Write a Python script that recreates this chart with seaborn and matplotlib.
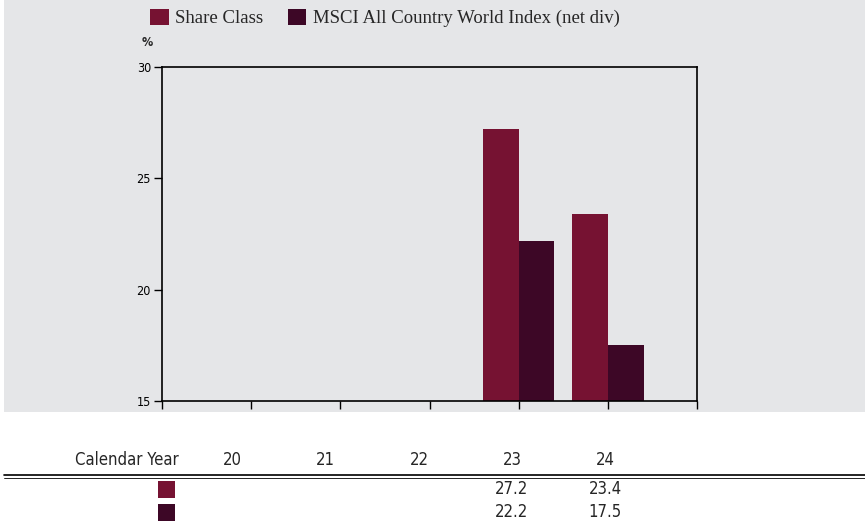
import matplotlib
matplotlib.use("Agg")
import matplotlib.pyplot as plt
import matplotlib.patches as mpatches
from matplotlib.lines import Line2D
import seaborn as sns
import pandas as pd

# Data
years = ["20", "21", "22", "23", "24"]
series_names = ["Share Class", "MSCI All Country World Index (net div)"]
share_class = [None, None, None, 27.2, 23.4]
msci_index = [None, None, None, 22.2, 17.5]
colors = ["#761232", "#3d0726"]
bg = "#e5e6e8"

rows = []
for y, a, b in zip(years, share_class, msci_index):
    if a is not None:
        rows.append({"Year": y, "Serie": series_names[0], "Valor": a})
    if b is not None:
        rows.append({"Year": y, "Serie": series_names[1], "Valor": b})
df = pd.DataFrame(rows)

sns.set_style("white")
narrow = ["Liberation Sans Narrow", "DejaVu Sans"]

fig = plt.figure(figsize=(8.65, 5.25), dpi=100)
fig.patch.set_facecolor("white")

# grey panel behind chart
fig.patches.append(mpatches.Rectangle((4 / 865, 1 - 412 / 525), 1 - 4 / 865, 412 / 525,
                                      transform=fig.transFigure, facecolor=bg,
                                      edgecolor="none", zorder=-5))

ax = fig.add_axes([162 / 865, 1 - 401 / 525, 535 / 865, 334 / 525])
ax.set_zorder(2)
ax.set_facecolor(bg)
sns.barplot(data=df, x="Year", y="Valor", hue="Serie", order=years,
            hue_order=series_names, palette=colors, width=0.8,
            saturation=1, linewidth=0, ax=ax, legend=False)

ax.set_xlim(-1, 5)
ax.set_ylim(15, 30)
ax.set_yticks([15, 20, 25, 30])
ax.set_xticks(range(-1, 6))
ax.set_xticklabels([])
ax.set_xlabel("")
ax.set_ylabel("")
for s in ax.spines.values():
    s.set_color("black")
    s.set_linewidth(1.2)
    s.set_visible(True)
ax.tick_params(axis="x", direction="out", length=6, width=1, colors="black", bottom=True)
ax.tick_params(axis="y", direction="out", length=6, width=1, colors="black", left=True,
               labelsize=9, pad=2)
for lab in ax.get_yticklabels():
    lab.set_family(narrow)
    lab.set_stretch("condensed")
ax.text(-0.028, 1.055, "%", transform=ax.transAxes, ha="center", va="bottom",
        fontsize=9, fontweight="bold", family=narrow, stretch="condensed")

# legend
handles = [mpatches.Patch(facecolor=c, edgecolor="none") for c in colors]
fig.legend(handles, series_names, loc="center left", bbox_to_anchor=(133 / 865, 1 - 18 / 525),
           ncol=2, frameon=False, prop={"family": "Liberation Serif", "size": 13.5},
           handlelength=1.0, handleheight=1.0, handletextpad=0.35, columnspacing=1.3)

# table below
fig.text(127 / 865, 1 - 460 / 525, "Calendar Year", ha="center", va="center",
         fontsize=12, family=narrow, stretch="condensed")
col_x = [232, 325, 419, 512, 605]
for x, y in zip(col_x, years):
    fig.text(x / 865, 1 - 460 / 525, y, ha="center", va="center", fontsize=12,
             family=narrow, stretch="condensed")
fig.lines.append(Line2D([4 / 865, 1], [1 - 475 / 525] * 2, transform=fig.transFigure,
                        color="black", linewidth=1.2))
fig.lines.append(Line2D([4 / 865, 1], [1 - 478 / 525] * 2, transform=fig.transFigure,
                        color="black", linewidth=0.6))
for row_y, vals, c in zip([489, 512], [share_class, msci_index], colors):
    fig.patches.append(mpatches.Rectangle((158 / 865, 1 - (row_y + 9) / 525), 17 / 865, 17 / 525,
                                          transform=fig.transFigure, facecolor=c,
                                          edgecolor="none"))
    for x, v in zip(col_x, vals):
        if v is not None:
            fig.text(x / 865, 1 - row_y / 525, f"{v:.1f}", ha="center", va="center",
                     fontsize=12, family=narrow, stretch="condensed")

fig.savefig("out.png", dpi=100)
